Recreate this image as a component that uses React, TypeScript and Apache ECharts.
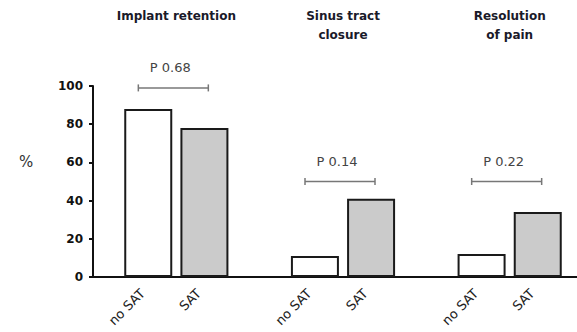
import React, { useEffect, useRef } from "react";
import * as echarts from "echarts";

const groupTitles = ["Implant retention", "Sinus tract\nclosure", "Resolution\nof pain"];
const seriesNames = ["no SAT", "SAT"];
const noSatValues = [88, 11, 12];
const satValues = [78, 41, 34];
const pLabels = ["P 0.68", "P 0.14", "P 0.22"];
const bracketValues = [99, 50, 50];
const yMin = 0;
const yMax = 100;
const yInterval = 20;
const yAxisLabel = "%";

const FONT = "DejaVu Sans";

export default function App() {
  const ref = useRef<HTMLDivElement>(null);

  useEffect(() => {
    if (!ref.current) return;
    const chart = echarts.init(ref.current, null, { renderer: "svg" });

    const barLabel = {
      show: true,
      position: "bottom",
      distance: 10,
      rotate: 45,
      align: "right",
      verticalAlign: "middle",
      offset: [-7, -1],
      formatter: "{a}",
      fontFamily: FONT,
      fontSize: 13,
      color: "#222",
    };

    const option: any = {
      animation: false,
      textStyle: { fontFamily: FONT },
      grid: {
        left: 93,
        top: 86,
        width: 500,
        height: 191,
        containLabel: false,
        outerBoundsMode: "none",
      },
      xAxis: [
        {
          type: "category",
          data: groupTitles,
          axisLine: { show: true, lineStyle: { color: "#111", width: 2 } },
          axisTick: { show: false },
          axisLabel: { show: false },
          splitLine: { show: false },
        },
        {
          type: "category",
          position: "top",
          data: groupTitles,
          axisLine: { show: false },
          axisTick: { show: false },
          splitLine: { show: false },
          axisLabel: {
            show: true,
            margin: 80,
            verticalAlign: "top",
            lineHeight: 19,
            fontFamily: FONT,
            fontWeight: "bold",
            fontSize: 12,
            color: "#1a1a2a",
          },
        },
      ],
      yAxis: {
        type: "value",
        min: yMin,
        max: yMax,
        interval: yInterval,
        axisLine: { show: true, lineStyle: { color: "#111", width: 2 } },
        axisTick: { show: true, length: 4, lineStyle: { color: "#111", width: 2 } },
        axisLabel: {
          margin: 10,
          fontFamily: FONT,
          fontWeight: "bold",
          fontSize: 12,
          color: "#111",
        },
        splitLine: { show: false },
      },
      graphic: [
        {
          type: "text",
          x: 26,
          y: 162,
          style: {
            text: yAxisLabel,
            fontFamily: FONT,
            fontSize: 15,
            fill: "#333",
            align: "center",
            verticalAlign: "middle",
          },
        },
      ],
      series: [
        {
          name: seriesNames[0],
          type: "bar",
          data: noSatValues,
          barWidth: 48,
          barGap: "17%",
          itemStyle: { color: "#ffffff", borderColor: "#1a1a1a", borderWidth: 2 },
          label: barLabel,
        },
        {
          name: seriesNames[1],
          type: "bar",
          data: satValues,
          barWidth: 48,
          barGap: "17%",
          itemStyle: { color: "#cbcbcb", borderColor: "#1a1a1a", borderWidth: 2 },
          label: barLabel,
        },
        {
          type: "custom",
          name: "p",
          data: bracketValues.map((v, i) => [i, v]),
          renderItem: (params: any, api: any) => {
            const pt = api.coord([api.value(0), api.value(1)]);
            const cx = pt[0] - 3;
            const y = pt[1];
            const half = 35;
            const tick = 3.5;
            const stroke = { stroke: "#777", lineWidth: 1.5 };
            return {
              type: "group",
              children: [
                { type: "line", shape: { x1: cx - half, y1: y, x2: cx + half, y2: y }, style: stroke },
                { type: "line", shape: { x1: cx - half, y1: y - tick, x2: cx - half, y2: y + tick }, style: stroke },
                { type: "line", shape: { x1: cx + half, y1: y - tick, x2: cx + half, y2: y + tick }, style: stroke },
                {
                  type: "text",
                  style: {
                    text: pLabels[params.dataIndex],
                    x: cx - 3,
                    y: y - 20,
                    align: "center",
                    verticalAlign: "middle",
                    fontFamily: FONT,
                    fontSize: 13,
                    fill: "#444",
                  },
                },
              ],
            };
          },
          z: 5,
        },
      ],
    };

    chart.setOption(option);
    return () => chart.dispose();
  }, []);

  return (
    <div
      ref={ref}
      style={{ position: "fixed", left: 0, top: 0, width: 577, height: 332, background: "#fff" }}
    />
  );
}
